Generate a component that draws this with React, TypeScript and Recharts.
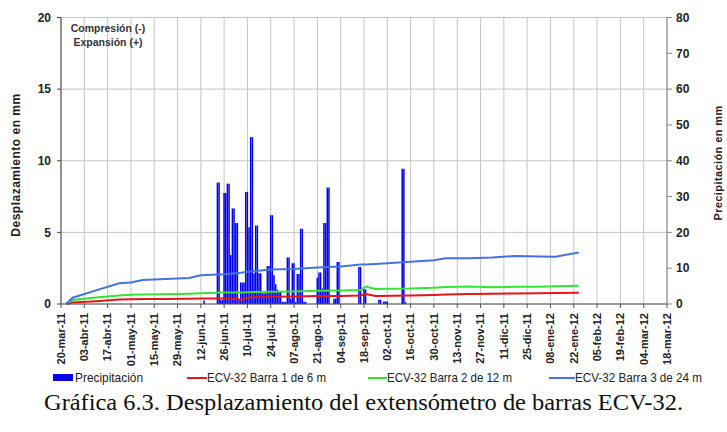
import { ComposedChart, Bar, Line, XAxis, YAxis, CartesianGrid } from 'recharts'

const tickLabels = [
  '20-mar-11', '03-abr-11', '17-abr-11', '01-may-11', '15-may-11', '29-may-11', '12-jun-11',
  '26-jun-11', '10-jul-11', '24-jul-11', '07-ago-11', '21-ago-11', '04-sep-11', '18-sep-11',
  '02-oct-11', '16-oct-11', '30-oct-11', '13-nov-11', '27-nov-11', '11-dic-11', '25-dic-11',
  '08-ene-12', '22-ene-12', '05-feb-12', '19-feb-12', '04-mar-12', '18-mar-12',
]
// one tick every 14 days, counted from 20-mar-11
const tickDays = tickLabels.map((_, i) => i * 14)

// daily rain (mm), day index from 20-mar-11
const rainDays = [
  86, 94, 95, 96, 97, 98, 99, 100, 101, 102, 103, 104, 105, 106, 107, 108, 109, 110, 111, 112,
  113, 114, 115, 116, 117, 118, 119, 120, 121, 122, 123, 124, 125, 126, 127, 128, 129, 130, 131,
  132, 133, 134, 135, 136, 137, 138, 139, 140, 141, 142, 143, 144, 145, 146, 147, 154, 155, 156,
  157, 158, 159, 160, 161, 164, 165, 166, 167, 179, 180, 182, 183, 191, 192, 194, 195, 196, 205,
  206, 207,
]
const rainMm = [
  1.0, 33.9, 33.9, 1.1, 1.1, 31, 31, 33.6, 33.6, 13.7, 26.7, 26.7, 22.6, 22.6, 1.5, 6, 6, 6, 31.3,
  31.3, 21.4, 46.6, 46.6, 8.6, 21.9, 21.9, 8.6, 8.6, 3, 3, 3, 10.6, 10.6, 24.8, 24.8, 8, 5.5, 4,
  3.5, 3.5, 0.6, 0.6, 0.6, 13, 13, 1.5, 11.4, 11.4, 0.5, 8.4, 8.4, 21, 21, 0.6, 0.6, 7.3, 8.8, 8.8,
  4.3, 22.6, 22.6, 32.5, 32.5, 1.5, 1.5, 11.7, 11.7, 10.3, 10.3, 4.1, 4.1, 1.2, 1.2, 0.7, 0.7, 0.7,
  37.8, 37.8, 0.5,
]

// extensometer readings
const readDays = [3, 7, 21, 35, 42, 49, 63, 77, 84, 98, 105, 108, 112, 126, 140, 154, 168, 180, 183, 189, 210, 224, 231, 245, 259, 273, 287, 297, 311]
const barra1 = [0, 0.1, 0.2, 0.32, 0.34, 0.35, 0.35, 0.37, 0.38, 0.38, 0.35, 0.28, 0.45, 0.5, 0.53, 0.55, 0.56, 0.6, 0.7, 0.56, 0.6, 0.63, 0.66, 0.7, 0.72, 0.74, 0.75, 0.77, 0.79]
const barra2 = [0, 0.28, 0.45, 0.6, 0.65, 0.67, 0.68, 0.72, 0.75, 0.8, 0.8, 0.8, 0.82, 0.86, 0.88, 0.92, 0.95, 0.98, 1.22, 1.05, 1.08, 1.14, 1.18, 1.22, 1.17, 1.2, 1.21, 1.24, 1.28]
const barra3 = [0, 0.44, 0.95, 1.45, 1.5, 1.68, 1.75, 1.82, 2.0, 2.08, 2.15, 2.18, 2.25, 2.4, 2.45, 2.55, 2.62, 2.75, 2.76, 2.8, 2.95, 3.05, 3.2, 3.2, 3.25, 3.35, 3.32, 3.3, 3.6]

type Row = { day: number; rain?: number; b1?: number; b2?: number; b3?: number }

const buildRows = (): Row[] => {
  const map = new Map<number, Row>()
  const get = (d: number) => {
    if (!map.has(d)) map.set(d, { day: d })
    return map.get(d)!
  }
  rainDays.forEach((d, i) => { get(d).rain = rainMm[i] })
  readDays.forEach((d, i) => {
    const r = get(d)
    r.b1 = barra1[i]
    r.b2 = barra2[i]
    r.b3 = barra3[i]
  })
  return Array.from(map.values()).sort((a, b) => a.day - b.day)
}

const data = buildRows()

const BOLD = { fontFamily: '"Liberation Sans", Arial, sans-serif', fontWeight: 700 }
const LEGEND_FONT = { fontFamily: '"Liberation Sans Narrow", "Arial Narrow", "Liberation Sans", sans-serif' }

const DateTick = (props: any) => {
  const { x, y, payload } = props
  const label = tickLabels[Math.round(payload.value / 14)] ?? ''
  return (
    <g transform={`translate(${x},${y + 3})`}>
      <text transform="rotate(-90)" textAnchor="end" dy="0.35em" fontSize={11} fill="#222" style={BOLD}>
        {label}
      </text>
    </g>
  )
}

const App = () => {
  return (
    <div style={{ position: 'absolute', left: 0, top: 0, width: 727, height: 432, background: '#fff' }}>
      <ComposedChart
        width={727}
        height={432}
        data={data}
        margin={{ top: 17.5, right: 10, left: 11, bottom: 68 }}
      >
        <CartesianGrid yAxisId="left" stroke="#c4c4c4" strokeWidth={1} />
        <XAxis
          dataKey="day"
          type="number"
          domain={[0, 364]}
          ticks={tickDays}
          interval={0}
          height={60}
          tick={<DateTick />}
          tickSize={4}
          stroke="#555"
          tickLine={{ stroke: '#555' }}
        />
        <YAxis
          yAxisId="left"
          domain={[0, 20]}
          ticks={[0, 5, 10, 15, 20]}
          width={50}
          tickSize={4}
          tickMargin={6}
          stroke="#444"
          tick={{ fontSize: 12, fill: '#222', ...BOLD }}
        />
        <YAxis
          yAxisId="right"
          orientation="right"
          domain={[0, 80]}
          ticks={[0, 10, 20, 30, 40, 50, 60, 70, 80]}
          width={50}
          tickSize={5}
          tickMargin={4}
          stroke="#888"
          tick={{ fontSize: 12, fill: '#222', ...BOLD }}
        />
        <Bar yAxisId="right" dataKey="rain" fill="#0000ee" barSize={2.6} isAnimationActive={false} />
        <Line yAxisId="left" dataKey="b1" stroke="#e3161c" strokeWidth={2} dot={false} connectNulls type="linear" isAnimationActive={false} />
        <Line yAxisId="left" dataKey="b2" stroke="#33e633" strokeWidth={2} dot={false} connectNulls type="linear" isAnimationActive={false} />
        <Line yAxisId="left" dataKey="b3" stroke="#4671e3" strokeWidth={2} dot={false} connectNulls type="linear" isAnimationActive={false} />
      </ComposedChart>

      <svg width={727} height={432} style={{ position: 'absolute', left: 0, top: 0, pointerEvents: 'none' }}>
        <text transform="translate(20,165) rotate(-90)" textAnchor="middle" fontSize={12} letterSpacing={0.5} fill="#222" style={BOLD}>
          Desplazamiento en mm
        </text>
        <text transform="translate(722,163) rotate(-90)" textAnchor="middle" fontSize={11} letterSpacing={0.4} fill="#222" style={BOLD}>
          Precipitación en mm
        </text>
        <text x={108} y={32} textAnchor="middle" fontSize={10.5} fill="#333" style={BOLD}>Compresión (-)</text>
        <text x={108} y={46} textAnchor="middle" fontSize={10.5} fill="#333" style={BOLD}>Expansión (+)</text>

        <rect x={53} y={374} width={20} height={7} fill="#0000ee" />
        <text x={75} y={382} fontSize={13} textLength={68} lengthAdjust="spacingAndGlyphs" fill="#222" style={LEGEND_FONT}>Precipitación</text>
        <line x1={187} x2={207} y1={378} y2={378} stroke="#e3161c" strokeWidth={2} />
        <text x={207} y={382} fontSize={13} textLength={119} lengthAdjust="spacingAndGlyphs" fill="#222" style={LEGEND_FONT}>ECV-32 Barra 1 de 6 m</text>
        <line x1={368} x2={387} y1={378} y2={378} stroke="#33e633" strokeWidth={2} />
        <text x={387} y={382} fontSize={13} textLength={125} lengthAdjust="spacingAndGlyphs" fill="#222" style={LEGEND_FONT}>ECV-32 Barra 2 de 12 m</text>
        <line x1={549} x2={575} y1={378} y2={378} stroke="#4671e3" strokeWidth={2} />
        <text x={575} y={382} fontSize={13} textLength={127} lengthAdjust="spacingAndGlyphs" fill="#222" style={LEGEND_FONT}>ECV-32 Barra 3 de 24 m</text>

        <text x={44} y={410} fontSize={24} textLength={639} lengthAdjust="spacingAndGlyphs" fill="#111" style={{ fontFamily: '"Liberation Serif", "Times New Roman", serif' }}>
          Gráfica 6.3. Desplazamiento del extensómetro de barras ECV-32.
        </text>
      </svg>
    </div>
  )
}

export default App
